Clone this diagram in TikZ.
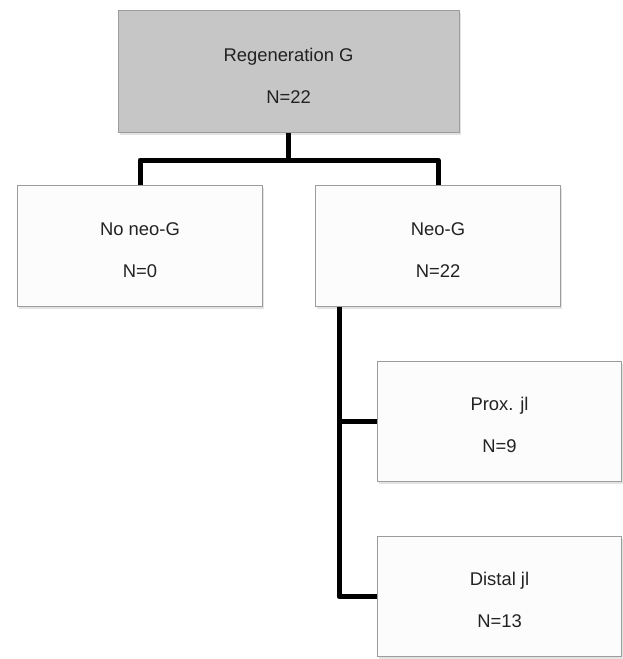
\documentclass[tikz,border=0pt]{standalone}
\usepackage{fontspec}
\setmainfont{Liberation Sans}
\usetikzlibrary{positioning,calc,shadows}
\definecolor{boxline}{HTML}{9C9C9C}
\definecolor{topfill}{HTML}{C6C6C6}
\definecolor{txt}{HTML}{222222}
\tikzset{
  grp/.style   ={draw=boxline,line width=1pt,fill=white!99!black,text=txt,align=center,
                 font=\fontsize{18.4}{22}\selectfont,text height=63pt,
                 minimum width=245pt,minimum height=121pt,
                 drop shadow={shadow xshift=1.5pt,shadow yshift=-2.5pt,opacity=.22}},
  root/.style  ={grp,fill=topfill,minimum width=341pt,minimum height=122pt},
  sub/.style   ={grp,minimum width=244pt,minimum height=120pt},
  link/.style  ={line width=5pt,line join=round},
}

\begin{document}
\begin{tikzpicture}[x=1pt,y=1pt]
  \useasboundingbox (0,0) rectangle (622,-659);
  \node[root] (G) at (288.5,-71.5) {Regeneration G\\[20pt]N=22};
  \node[grp] (nong) [below=52pt of G,xshift=-148.5pt] {No neo-G\\[20pt]N=0};
  \node[grp] (neog) [right=52pt of nong] {Neo-G\\[20pt]N=22};
  \node[sub] (prox) [below=54pt of neog.south west,anchor=north west,xshift=62pt] {Prox. jl\\[20pt]N=9};
  \node[sub] (dist) [below=54pt of prox] {Distal jl\\[20pt]N=13};
  % tree lines
  \coordinate (bar) at ($(G.south)+(0,-27pt)$);
  \coordinate (tr) at ($(neog.south west)+(24pt,0)$);
  \draw[link] (G.south) -- (bar);
  \draw[link] (nong.north) |- (bar) -| (neog.north);
  \draw[link] (tr) |- (dist.west);
  \draw[link] (tr |- prox.west) -- (prox.west);
\end{tikzpicture}
\end{document}
